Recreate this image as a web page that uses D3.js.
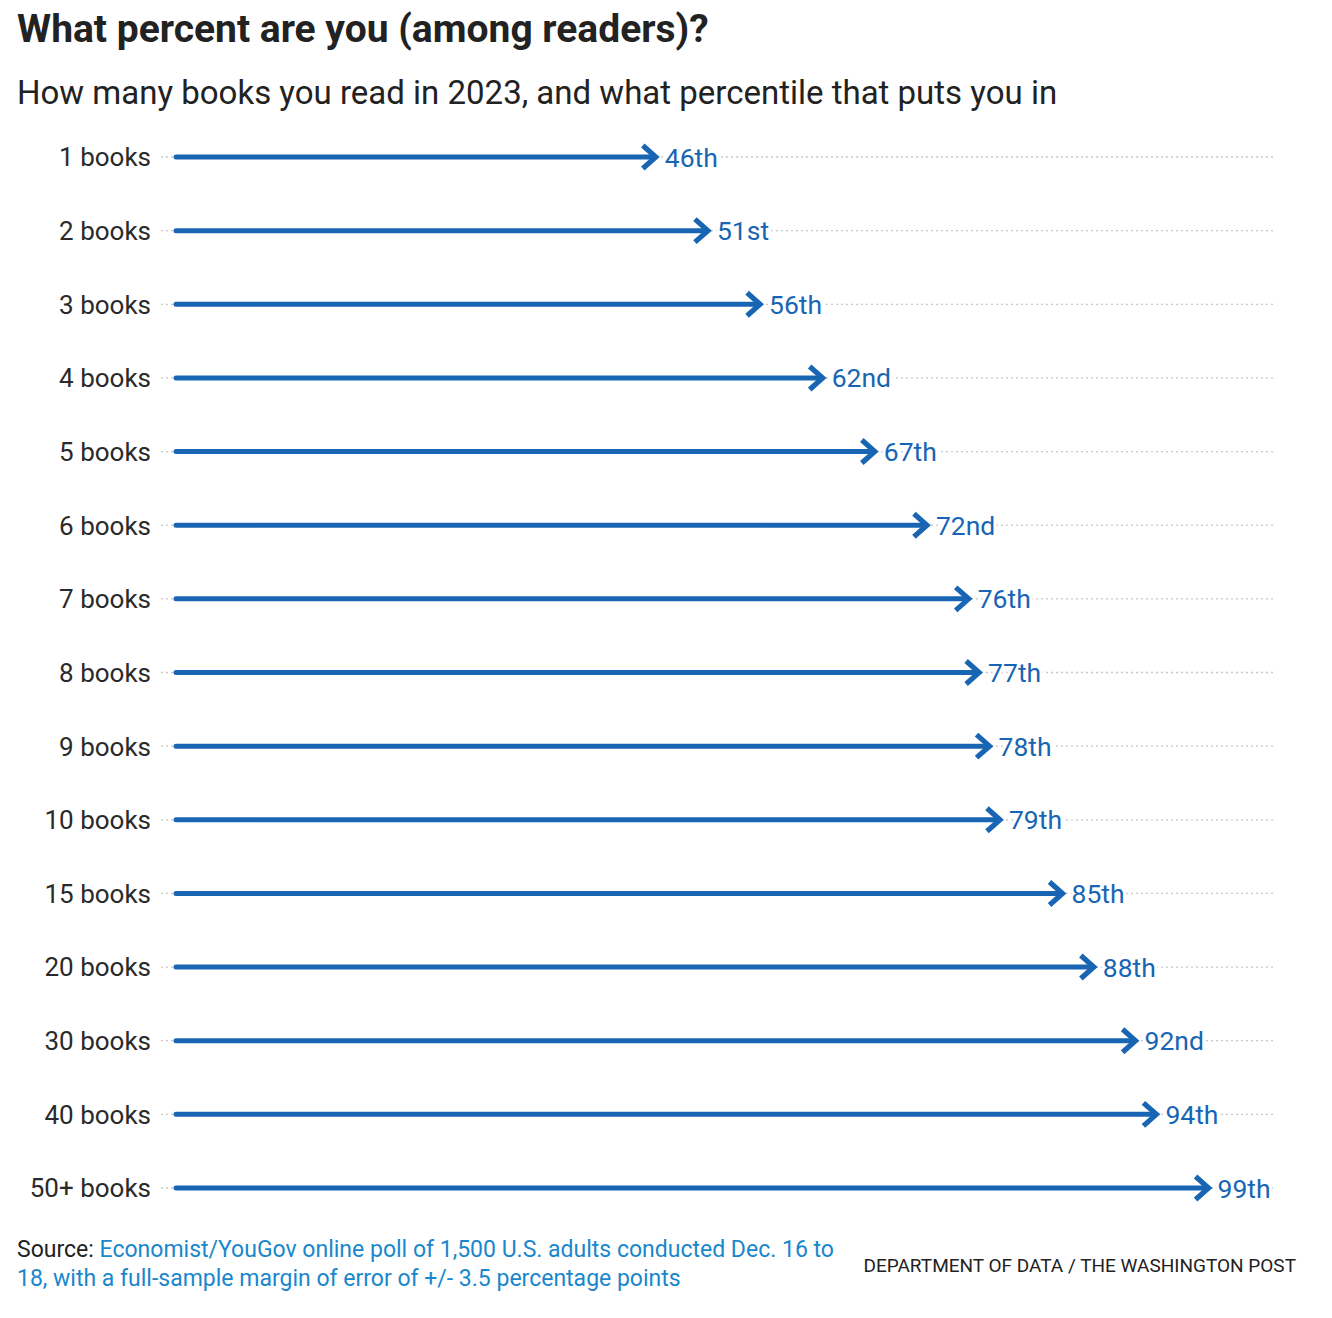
<!DOCTYPE html>
<html>
<head>
<meta charset="utf-8">
<script src="https://cdn.jsdelivr.net/npm/d3@7"></script>
<style>
  body { margin: 0; background: #fff; }
  svg text { font-family: "Roboto", "Liberation Sans", sans-serif; }
</style>
</head>
<body>
<div id="chart"></div>
<script>
const categories = ['1 books', '2 books', '3 books', '4 books', '5 books', '6 books', '7 books',
  '8 books', '9 books', '10 books', '15 books', '20 books', '30 books', '40 books', '50+ books'];
const percentiles = [46, 51, 56, 62, 67, 72, 76, 77, 78, 79, 85, 88, 92, 94, 99];
const percentileLabels = ['46th', '51st', '56th', '62nd', '67th', '72nd', '76th', '77th', '78th',
  '79th', '85th', '88th', '92nd', '94th', '99th'];

const width = 1332, height = 1318;
const blue = '#1865b3';

const svg = d3.select('#chart').append('svg')
  .attr('width', width)
  .attr('height', height);

const x = d3.scaleLinear().domain([0, 100]).range([176, 1219]);
const y = d3.scalePoint().domain(categories).range([157, 1188]);

// title + subtitle
svg.append('text')
  .attr('x', 17).attr('y', 42)
  .attr('font-size', 39).attr('font-weight', 'bold').attr('fill', '#222')
  .text('What percent are you (among readers)?');
svg.append('text')
  .attr('x', 17).attr('y', 104)
  .attr('font-size', 33).attr('fill', '#222')
  .text('How many books you read in 2023, and what percentile that puts you in');

const rows = categories.map((c, i) => ({cat: c, v: percentiles[i], label: percentileLabels[i]}));

// dotted guides
svg.append('g').selectAll('line').data(rows).join('line')
  .attr('x1', 161).attr('x2', 1273)
  .attr('y1', d => y(d.cat)).attr('y2', d => y(d.cat))
  .attr('stroke', '#c8c8c8').attr('stroke-width', 1.3)
  .attr('stroke-dasharray', '2,3');

// category labels
svg.append('g').selectAll('text').data(rows).join('text')
  .attr('x', 151).attr('y', d => y(d.cat))
  .attr('dy', '0.36em')
  .attr('text-anchor', 'end')
  .attr('font-size', 26).attr('fill', '#2a2a2a')
  .text(d => d.cat);

// arrows
const arrows = svg.append('g').selectAll('g').data(rows).join('g');
arrows.append('line')
  .attr('x1', x(0)).attr('x2', d => x(d.v) - 2)
  .attr('y1', d => y(d.cat)).attr('y2', d => y(d.cat))
  .attr('stroke', blue).attr('stroke-width', 5)
  .attr('stroke-linecap', 'round');
arrows.append('path')
  .attr('d', d => {
    const tx = x(d.v), ty = y(d.cat);
    return `M${tx - 13},${ty - 11.5} L${tx},${ty} L${tx - 13},${ty + 11.5}`;
  })
  .attr('fill', 'none').attr('stroke', blue).attr('stroke-width', 5.2)
  .attr('stroke-linejoin', 'miter').attr('stroke-linecap', 'butt');

// value labels, white backing to cut the guide
arrows.append('text')
  .attr('x', d => x(d.v) + 9).attr('y', d => y(d.cat))
  .attr('dy', '0.36em')
  .attr('font-size', 26.5).attr('fill', blue)
  .attr('stroke', '#fff').attr('stroke-width', 6).attr('paint-order', 'stroke')
  .text(d => d.label);

// footer
const src = svg.append('text')
  .attr('x', 17).attr('y', 1257)
  .attr('font-size', 23).attr('fill', '#222');
src.append('tspan').text('Source: ');
src.append('tspan').attr('fill', '#1a87cc')
  .text('Economist/YouGov online poll of 1,500 U.S. adults conducted Dec. 16 to');
svg.append('text')
  .attr('x', 17).attr('y', 1286)
  .attr('font-size', 23).attr('fill', '#1a87cc')
  .text('18, with a full-sample margin of error of +/- 3.5 percentage points');

svg.append('text')
  .attr('x', 1296).attr('y', 1272)
  .attr('text-anchor', 'end')
  .attr('font-size', 19).attr('fill', '#222')
  .text('DEPARTMENT OF DATA / THE WASHINGTON POST');
</script>
</body>
</html>
